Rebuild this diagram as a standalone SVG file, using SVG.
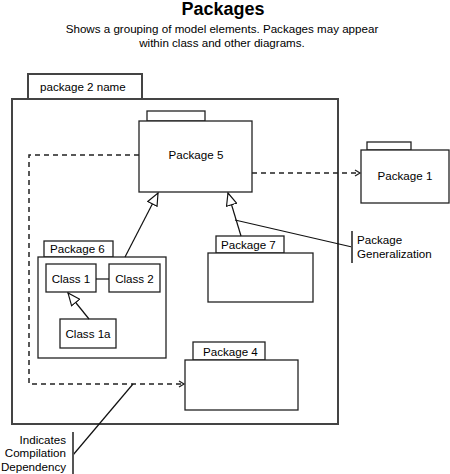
<svg xmlns="http://www.w3.org/2000/svg" width="450" height="474" viewBox="0 0 450 474">
<style>
text{font-family:"Liberation Sans",Arial,sans-serif;fill:#000}
.t{font-size:18px;font-weight:bold}
.s{font-size:11.6px}
.l{font-size:11.6px}
.box{fill:#fff;stroke:#222;stroke-width:1.3}
.cont{fill:none;stroke:#444;stroke-width:2}
.bar{fill:none;stroke:#555;stroke-width:2}
.ln{fill:none;stroke:#111;stroke-width:1.2}
.dash{fill:none;stroke:#222;stroke-width:1.5;stroke-dasharray:5,4}
</style>
<defs>
<marker id="tri" markerUnits="userSpaceOnUse" markerWidth="14" markerHeight="12" refX="11" refY="5" orient="auto" viewBox="0 0 12 10">
<path d="M0.5,0.5 L11,5 L0.5,9.5 Z" fill="#fff" stroke="#111" stroke-width="1"/>
</marker>
<marker id="open" markerUnits="userSpaceOnUse" markerWidth="8" markerHeight="10" refX="6" refY="4" orient="auto" viewBox="0 0 8 8">
<path d="M1,1 L6,4 L1,7" fill="none" stroke="#222" stroke-width="1.3"/>
</marker>
</defs>
<g id="title">
<text class="t" x="223" y="15" text-anchor="middle">Packages</text>
<text class="s" x="222" y="33" text-anchor="middle">Shows a grouping of model elements. Packages may appear</text>
<text class="s" x="222" y="47" text-anchor="middle">within class and other diagrams.</text>
</g>
<g id="package2">
<rect class="cont" x="28" y="74" width="114" height="25"/>
<rect class="cont" x="12" y="99" width="326" height="325"/>
<text class="l" x="40" y="91">package 2 name</text>
</g>
<g id="package5">
<rect class="box" x="147" y="111" width="58" height="10"/>
<rect class="box" x="139" y="121" width="113" height="71"/>
<text class="l" x="196" y="159" text-anchor="middle">Package 5</text>
</g>
<g id="package1">
<rect class="box" x="367" y="142" width="44" height="8"/>
<rect class="box" x="361" y="150" width="88" height="53"/>
<text class="l" x="405" y="180" text-anchor="middle">Package 1</text>
</g>
<g id="package6">
<rect class="box" x="44" y="241" width="69" height="16"/>
<rect class="box" x="38" y="257" width="128" height="101"/>
<text class="l" x="50" y="253">Package 6</text>
</g>
<g id="class1">
<rect class="box" x="46" y="264" width="50" height="28"/>
<text class="l" x="71" y="283" text-anchor="middle">Class 1</text>
</g>
<g id="class2">
<rect class="box" x="109" y="264" width="51" height="28"/>
<text class="l" x="134.5" y="283" text-anchor="middle">Class 2</text>
</g>
<g id="class1a">
<rect class="box" x="60" y="319" width="56" height="29"/>
<text class="l" x="88" y="338" text-anchor="middle">Class 1a</text>
</g>
<g id="package7">
<rect class="box" x="216" y="236" width="68" height="17"/>
<rect class="box" x="208" y="253" width="105" height="49"/>
<text class="l" x="221" y="249">Package 7</text>
</g>
<g id="package4">
<rect class="box" x="193" y="342" width="72" height="18"/>
<rect class="box" x="185" y="360" width="113" height="50"/>
<text class="l" x="203" y="356">Package 4</text>
</g>
<g id="connectors">
<path class="dash" d="M252,173 H360" marker-end="url(#open)"/>
<path class="dash" d="M139,155 H29 V384 H184" marker-end="url(#open)"/>
<path class="ln" d="M96,279 H109"/>
<path class="ln" d="M89,319 L68,293" marker-end="url(#tri)"/>
<path class="ln" d="M125,257 L158,193" marker-end="url(#tri)"/>
<path class="ln" d="M241,236 L228,193" marker-end="url(#tri)"/>
</g>
<g id="note-generalization">
<path class="ln" d="M235,220 L352,247"/>
<path class="bar" d="M352,231 V263"/>
<text class="l" x="357" y="244">Package</text>
<text class="l" x="357" y="258">Generalization</text>
</g>
<g id="note-dependency">
<path class="ln" d="M133,384 L73,455"/>
<path class="bar" d="M73,432 V474"/>
<text class="l" x="66" y="444" text-anchor="end">Indicates</text>
<text class="l" x="66" y="457" text-anchor="end">Compilation</text>
<text class="l" x="66" y="471" text-anchor="end">Dependency</text>
</g>
</svg>
